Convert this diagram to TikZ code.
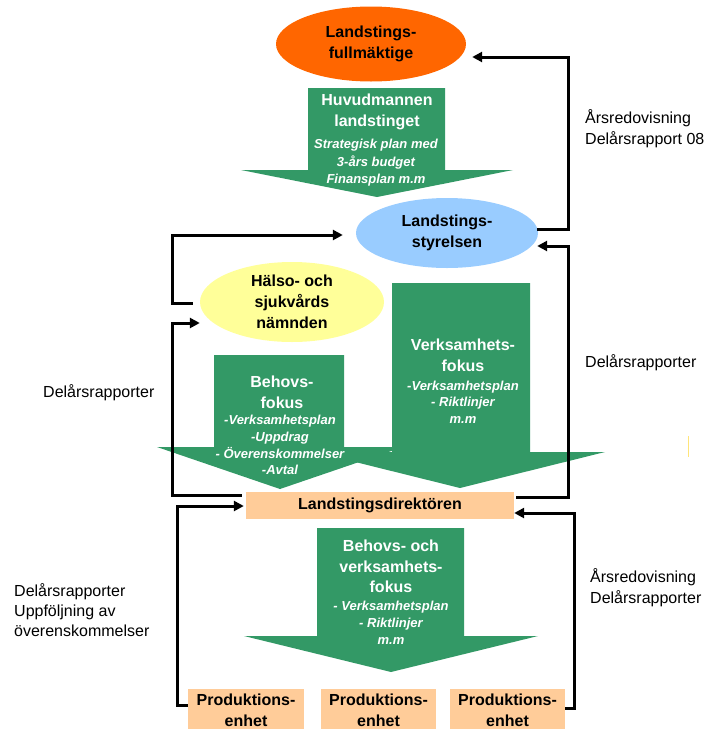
\documentclass[tikz,border=0pt]{standalone}
\usepackage{fontspec}
\setmainfont{Liberation Sans}
\usetikzlibrary{shapes.geometric,arrows.meta}
\definecolor{cOrange}{HTML}{FF6600}
\definecolor{cGreen}{HTML}{339966}
\definecolor{cBlue}{HTML}{99CCFF}
\definecolor{cYellow}{HTML}{FFFF99}
\definecolor{cPeach}{HTML}{FFCC99}
\tikzset{
  bt/.style={font=\bfseries\fontsize{16}{21}\selectfont, align=center, inner sep=0pt},
  itx/.style={font=\bfseries\itshape\fontsize{13}{17}\selectfont, align=center, inner sep=0pt, text=white},
  rt/.style={font=\fontsize{16}{21}\selectfont, align=left, inner sep=0pt, anchor=west},
  ell/.style={ellipse, inner sep=0pt, bt},
  pbox/.style={rectangle, fill=cPeach, inner sep=0pt, bt},
  garrow/.style={fill=cGreen},
  conn/.style={line width=3pt, line cap=butt, line join=miter, -{Triangle[length=10pt,width=10pt]}},
}
\begin{document}
\begin{tikzpicture}[x=1pt,y=-1pt]
\useasboundingbox (0,0) rectangle (706,729);

% green arrows
\fill[garrow] (308,88) -- (445,88) -- (445,170) -- (513,170) -- (377,197) -- (241,170) -- (308,170) -- cycle;
\fill[garrow] (392,283) -- (530,283) -- (530,452) -- (605,452) -- (460,488) -- (315,452) -- (392,452) -- cycle;
\fill[garrow] (214,355) -- (344,355) -- (344,447) -- (403,447) -- (280,489) -- (157,447) -- (214,447) -- cycle;
\fill[garrow] (317,528) -- (464,528) -- (464,636) -- (538,636) -- (391,672) -- (244,636) -- (317,636) -- cycle;

% ellipses
\node[ell, fill=cOrange, minimum width=190pt, minimum height=75pt] (orange) at (371,44) {Landstings-\\fullmäktige};
\node[ell, fill=cBlue, minimum width=182pt, minimum height=70pt] (blue) at (447,233) {Landstings-\\styrelsen};
\node[ell, fill=cYellow, minimum width=184pt, minimum height=80pt] (yellow) at (292,302) {Hälso- och\\sjukvårds\\nämnden};

% boxes
\node[pbox, minimum width=268pt, minimum height=27pt] (dir) at (380,505.5) {Landstingsdirektören};
\node[pbox, minimum width=116pt, minimum height=42pt] (prod1) at (246,710) {Produktions-\\enhet};
\node[pbox, minimum width=115pt, minimum height=42pt] (prod2) at (378.5,710) {Produktions-\\enhet};
\node[pbox, minimum width=115pt, minimum height=42pt] (prod3) at (507.5,710) {Produktions-\\enhet};

% arrow texts
\node[bt, text=white] (t1a) at (377,112) {Huvudmannen\\landstinget};
\node[itx, font=\bfseries\itshape\fontsize{13}{17.5}\selectfont] (t1b) at (376,163) {Strategisk plan med\\3-års budget\\Finansplan m.m};
\node[bt, text=white] (t2a) at (463,355.5) {Verksamhets-\\fokus};
\node[itx, font=\bfseries\itshape\fontsize{13}{16.5}\selectfont] (t2b) at (463,402) {-Verksamhetsplan\\- Riktlinjer\\m.m};
\node[bt, text=white] (t3a) at (282,392.5) {Behovs-\\fokus};
\node[itx, font=\bfseries\itshape\fontsize{13}{16.7}\selectfont] (t3b) at (280,445) {-Verksamhetsplan\\-Uppdrag\\- Överenskommelser\\-Avtal};
\node[bt, text=white, font=\bfseries\fontsize{16}{20.5}\selectfont] (t4a) at (391,566.5) {Behovs- och\\verksamhets-\\fokus};
\node[itx] (t4b) at (391,623) {- Verksamhetsplan\\- Riktlinjer\\m.m};

% labels
\node[rt] (l1) at (585,129) {Årsredovisning\\Delårsrapport 08};
\node[rt] (l2) at (585,363) {Delårsrapporter};
\node[rt] (l3) at (590,587.5) {Årsredovisning\\Delårsrapporter};
\node[rt] (l4) at (43,393) {Delårsrapporter};
\node[rt, font=\fontsize{16}{20}\selectfont] (l5) at (14,610) {Delårsrapporter\\Uppföljning av\\överenskommelser};

% connectors
\draw[conn] ([xshift=-1pt,yshift=4pt]blue.east) -| (568,57) -- ([xshift=6pt,yshift=-13pt]orange.east);
\draw[conn] ([xshift=2pt,yshift=8.5pt]dir.east) -| (568,246) -- ([xshift=-1pt,yshift=-13pt]blue.east);
\draw[conn] ([yshift=2pt]prod3.east) -| (574,513) -- ([yshift=-7.5pt]dir.east);
\draw[conn] ([xshift=-7pt,yshift=-1pt]yellow.west) -| (172,235) -- ([xshift=-13pt,yshift=-2pt]blue.west);
\draw[conn] ([xshift=-4pt,yshift=10pt]dir.west) -| (172,323) -- ([yshift=-21pt]yellow.west);
\draw[conn] ([yshift=5pt]prod1.west) -| (177,506) -- ([xshift=-2pt,yshift=-0.5pt]dir.west);

% small yellow mark
\draw[cYellow!80!orange, line width=1pt] (688,436) -- (688,457);
\end{tikzpicture}
\end{document}
